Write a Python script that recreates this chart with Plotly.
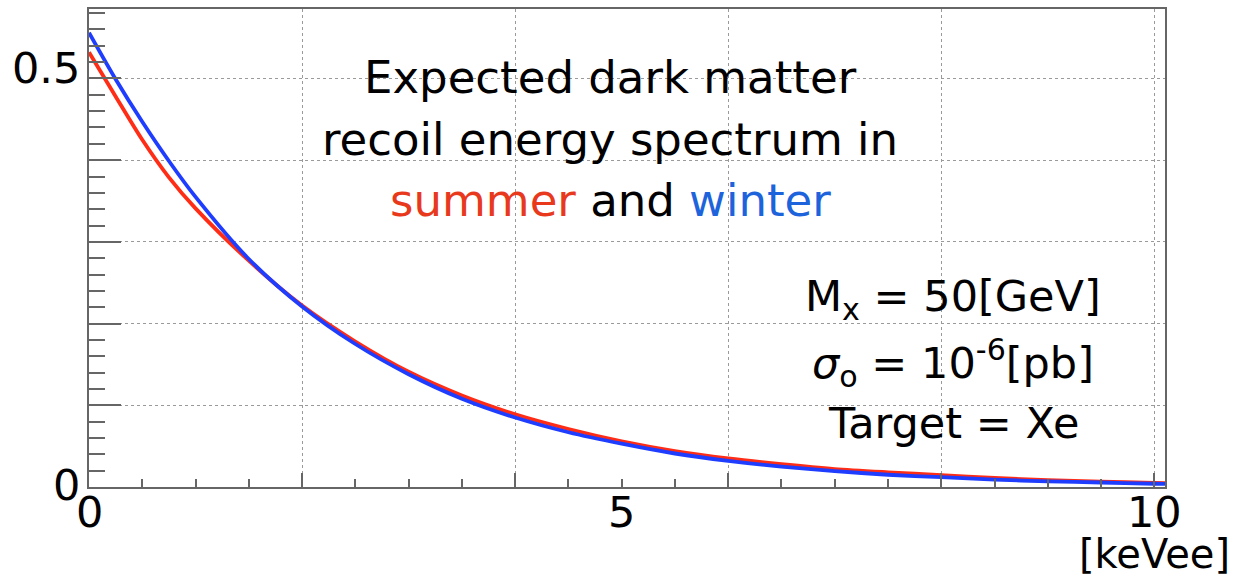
import plotly.graph_objects as go

# Recoil energy [keVee]
energy = [0.0, 0.25, 0.5, 0.75, 1.0, 1.5, 2.0, 2.5, 3.0, 3.5, 4.0, 4.5, 5.0,
          5.5, 6.0, 6.5, 7.0, 7.5, 8.0, 8.5, 9.0, 9.5, 10.0, 10.1]

# Expected event rate, summer (June) and winter (December)
rate_summer = [0.532, 0.478, 0.425, 0.379, 0.341, 0.277, 0.222, 0.178, 0.141,
               0.112, 0.089, 0.071, 0.056, 0.044, 0.035, 0.028, 0.022, 0.018,
               0.0146, 0.011, 0.0085, 0.0066, 0.005, 0.0048]
rate_winter = [0.556, 0.499, 0.447, 0.399, 0.355, 0.279, 0.221, 0.175, 0.138,
               0.108, 0.085, 0.067, 0.053, 0.041, 0.032, 0.025, 0.0195, 0.015,
               0.012, 0.009, 0.007, 0.0055, 0.004, 0.0038]

x_range = [0, 10.1]
y_range = [0, 0.585]
x_grid = [0, 2, 4, 6, 8, 10]
y_grid = [0, 0.1, 0.2, 0.3, 0.4, 0.5]
x_labels = [0, 5, 10]
y_labels = [0, 0.5]
x_unit = "[keVee]"

title_lines = [
    "Expected dark matter",
    "recoil energy spectrum in",
    "<span style='color:#e8391d'>summer</span> and "
    "<span style='color:#1d63dc'>winter</span>",
]
param_lines = [
    "M<sub>x</sub> = 50[GeV]",
    "<i>σ</i><sub>o</sub> = 10<sup>-6</sup>[pb]",
    "Target = Xe",
]

RED = "#ff2d16"
BLUE = "#1f3dff"
AXIS = "#666666"
FONT = "DejaVu Sans"

fig = go.Figure()
fig.add_trace(go.Scatter(x=energy, y=rate_summer, mode="lines",
                         line=dict(color=RED, width=3.8, shape="spline", smoothing=0.8),
                         name="summer"))
fig.add_trace(go.Scatter(x=energy, y=rate_winter, mode="lines",
                         line=dict(color=BLUE, width=3.8, shape="spline", smoothing=0.8),
                         name="winter"))

W, H = 1235, 580
ML, MR, MT, MB = 89, 70, 7, 93
plot_h = H - MT - MB
plot_w = W - ML - MR


def py(y_px):
    """Pixel row -> paper y."""
    return (H - MB - y_px) / plot_h


def px(x_px):
    """Pixel column -> paper x."""
    return (x_px - ML) / plot_w


annotations = []
# x-axis tick labels
for v in x_labels:
    annotations.append(dict(x=v, xref="x", y=py(512), yref="paper", text=str(v),
                            showarrow=False, xanchor="center", yanchor="middle",
                            font=dict(family=FONT, size=43, color="black")))
# y-axis tick labels
for v, yc in zip(y_labels, [485, 66]):
    annotations.append(dict(x=px(82), xref="paper", y=py(yc), yref="paper", text=str(v),
                            showarrow=False, xanchor="right", yanchor="middle",
                            font=dict(family=FONT, size=43, color="black")))
# unit label
annotations.append(dict(x=px(1232), xref="paper", y=py(554), yref="paper", text=x_unit,
                        showarrow=False, xanchor="right", yanchor="middle",
                        font=dict(family=FONT, size=40, color="black")))
# title block
for line, yc in zip(title_lines, [76, 138, 199]):
    annotations.append(dict(x=px(610), xref="paper", y=py(yc), yref="paper", text=line,
                            showarrow=False, xanchor="center", yanchor="middle",
                            font=dict(family=FONT, size=45, color="black")))
# parameter block
for line, yc in zip(param_lines, [298, 362, 423]):
    annotations.append(dict(x=px(953), xref="paper", y=py(yc), yref="paper", text=line,
                            showarrow=False, xanchor="center", yanchor="middle",
                            font=dict(family=FONT, size=43, color="black")))

fig.update_layout(
    width=W, height=H,
    margin=dict(l=ML, r=MR, t=MT, b=MB, pad=0),
    paper_bgcolor="white", plot_bgcolor="white",
    showlegend=False,
    annotations=annotations,
    xaxis=dict(range=x_range, tickmode="array", tickvals=x_grid, showticklabels=False,
               ticks="inside", ticklen=14, tickwidth=2, tickcolor=AXIS,
               showgrid=True, gridcolor="#9a9a9a", gridwidth=1, griddash="dot",
               showline=True, linecolor=AXIS, linewidth=2, mirror=True, zeroline=False,
               minor=dict(ticks="inside", ticklen=8, tickwidth=2, tickcolor=AXIS,
                          tick0=0, dtick=0.5, showgrid=False)),
    yaxis=dict(range=y_range, tickmode="array", tickvals=y_grid, showticklabels=False,
               ticks="inside", ticklen=32, tickwidth=2, tickcolor=AXIS,
               showgrid=True, gridcolor="#9a9a9a", gridwidth=1, griddash="dot",
               showline=True, linecolor=AXIS, linewidth=2, mirror=True, zeroline=False,
               minor=dict(ticks="inside", ticklen=16, tickwidth=2, tickcolor=AXIS,
                          tick0=0, dtick=0.02, showgrid=False)),
)

fig.write_html("out.html")
